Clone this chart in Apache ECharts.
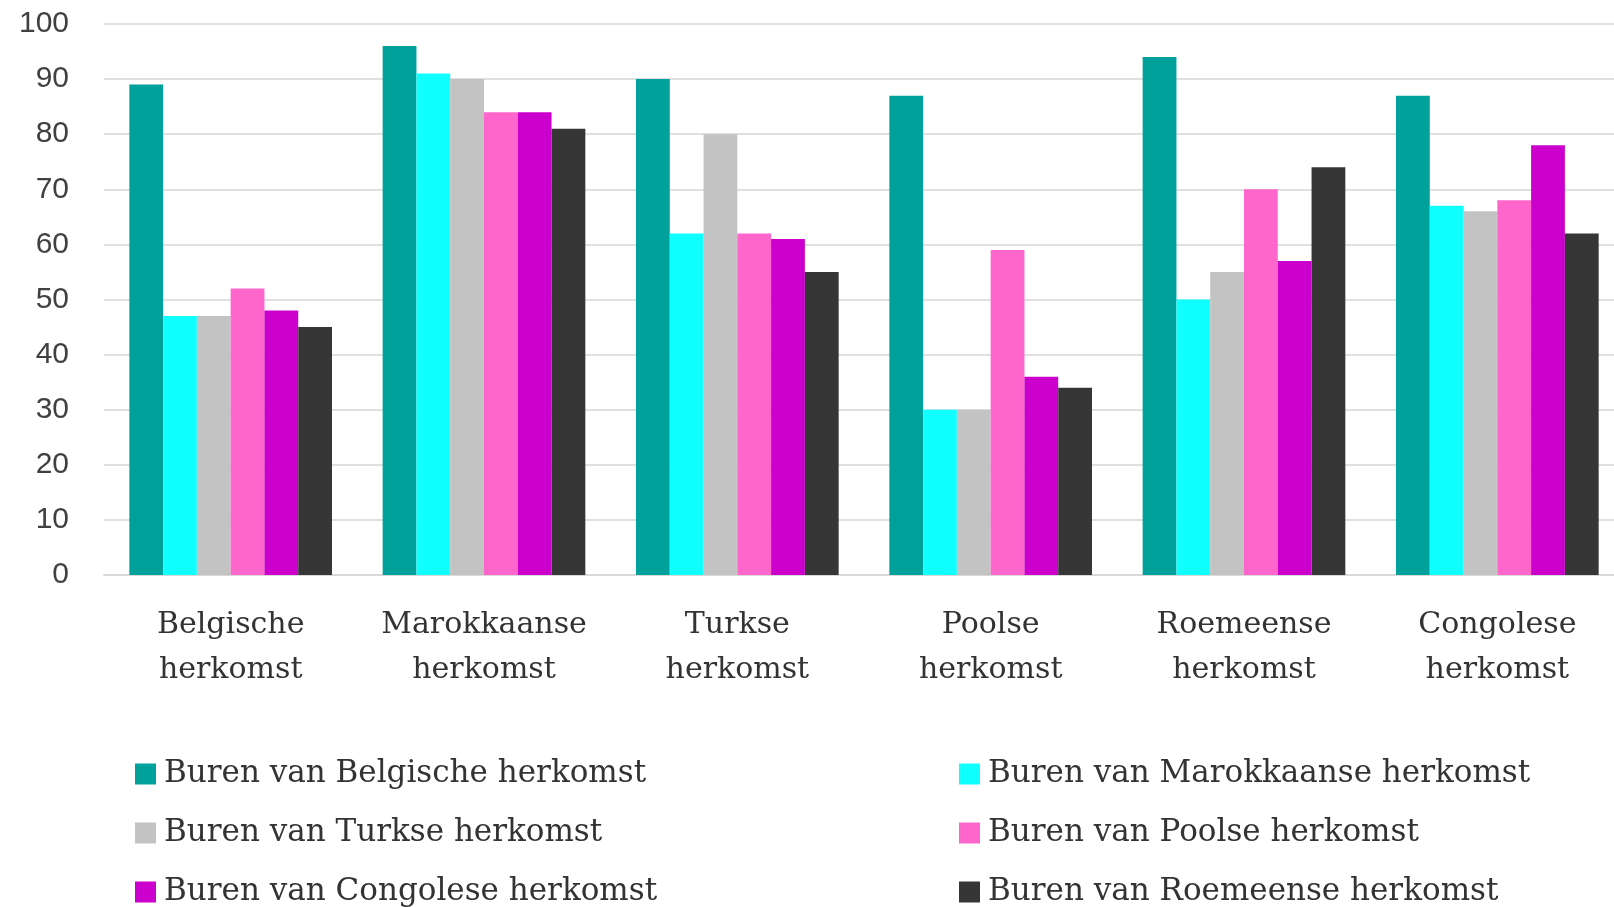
<!DOCTYPE html>
<html>
<head>
<meta charset="utf-8">
<script src="https://cdn.jsdelivr.net/npm/echarts@6/dist/echarts.min.js"></script>
<style>
  html, body { margin: 0; padding: 0; background: #fff; }
  #chart { width: 1614px; height: 907px; }
</style>
</head>
<body>
<div id="chart"></div>
<script>
// categorieën (x-as)
const categories = ['Belgische\nherkomst', 'Marokkaanse\nherkomst', 'Turkse\nherkomst', 'Poolse\nherkomst', 'Roemeense\nherkomst', 'Congolese\nherkomst'];

// reeksen
const seriesNames = [
  'Buren van Belgische herkomst',
  'Buren van Marokkaanse herkomst',
  'Buren van Turkse herkomst',
  'Buren van Poolse herkomst',
  'Buren van Congolese herkomst',
  'Buren van Roemeense herkomst'
];
const burenBelgisch    = [89, 96, 90, 87, 94, 87];
const burenMarokkaans  = [47, 91, 62, 30, 50, 67];
const burenTurks       = [47, 90, 80, 30, 55, 66];
const burenPools       = [52, 84, 62, 59, 70, 68];
const burenCongolees   = [48, 84, 61, 36, 57, 78];
const burenRoemeens    = [45, 81, 55, 34, 74, 62];
const seriesValues = [burenBelgisch, burenMarokkaans, burenTurks, burenPools, burenCongolees, burenRoemeens];

const colors = ['#00a19b', '#10ffff', '#c3c3c3', '#ff66cc', '#cc00cc', '#363636'];

const chart = echarts.init(document.getElementById('chart'));

const legendText = {
  fontFamily: 'DejaVu Serif',
  fontSize: 31,
  color: '#333',
  lineHeight: 36,
  padding: [0, 0, 0, 3]
};

const legendBase = {
  orient: 'vertical',
  top: 756,
  height: 200,
  padding: 0,
  itemWidth: 21,
  itemHeight: 21,
  itemGap: 23,
  icon: 'rect',
  textStyle: legendText
};

chart.setOption({
  animation: false,
  color: colors,
  grid: { left: 104, width: 1520, top: 24, bottom: 332, outerBoundsMode: 'none' },
  legend: [
    Object.assign({ left: 135, data: [seriesNames[0], seriesNames[2], seriesNames[4]] }, legendBase),
    Object.assign({ left: 959, data: [seriesNames[1], seriesNames[3], seriesNames[5]] }, legendBase)
  ],
  xAxis: {
    type: 'category',
    data: categories,
    axisTick: { show: false },
    axisLine: { lineStyle: { color: '#d9d9d9', width: 2 } },
    axisLabel: {
      margin: 28,
      fontFamily: 'DejaVu Serif',
      fontSize: 30,
      lineHeight: 45,
      color: '#333',
      interval: 0
    }
  },
  yAxis: {
    type: 'value',
    min: 0,
    max: 100,
    interval: 10,
    axisLine: { show: false },
    axisTick: { show: false },
    splitLine: { lineStyle: { color: '#e0e0e0', width: 2 } },
    axisLabel: {
      margin: 35,
      fontFamily: 'Liberation Sans',
      fontSize: 30,
      color: '#404040'
    }
  },
  series: seriesNames.map((name, i) => ({
    name: name,
    type: 'bar',
    data: seriesValues[i],
    barGap: '0%',
    barCategoryGap: '20%'
  }))
});
</script>
</body>
</html>
